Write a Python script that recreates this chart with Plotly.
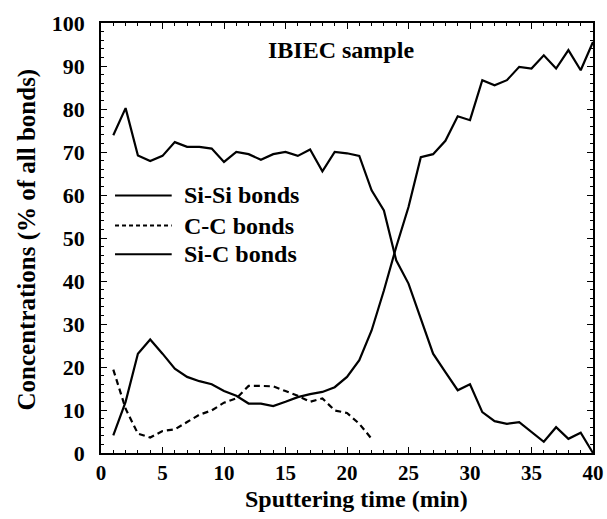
import plotly.graph_objects as go

time_min = list(range(1, 41))
si_si = [73.9, 80.2, 69.2, 67.9, 69.1, 72.3, 71.2, 71.2, 70.8, 67.7,
         70.0, 69.5, 68.2, 69.5, 70.0, 69.1, 70.6, 65.5, 70.0, 69.7,
         69.1, 61.1, 56.4, 44.8, 39.4, 31.3, 23.1, 18.8, 14.6, 16.0,
         9.5, 7.4, 6.8, 7.2, 5.0, 2.6, 6.0, 3.3, 4.7, 0.0]
si_c = [4.1, 11.9, 23.1, 26.4, 23.1, 19.6, 17.7, 16.7, 16.0, 14.4,
        13.3, 11.5, 11.5, 10.9, 11.9, 13.0, 13.7, 14.2, 15.3, 17.7,
        21.6, 28.5, 37.8, 47.9, 57.2, 68.8, 69.5, 72.6, 78.3, 77.4,
        86.7, 85.5, 86.7, 89.8, 89.4, 92.5, 89.4, 93.7, 89.0, 95.6]
cc_time = list(range(1, 23))
c_c = [19.4, 10.3, 4.5, 3.6, 5.1, 5.5, 7.2, 8.9, 9.9, 11.7,
       12.7, 15.6, 15.6, 15.5, 14.4, 13.3, 11.9, 12.7, 9.9, 9.3,
       6.8, 3.3]

legend_labels = ["Si-Si bonds", "C-C bonds", "Si-C bonds"]
sample_title = "IBIEC sample"
x_title = "Sputtering time (min)"
y_title = "Concentrations (% of all bonds)"

FONT = "Liberation Serif"
BLACK = "#000000"

fig = go.Figure()
fig.add_trace(go.Scatter(x=time_min, y=si_si, mode="lines", name=legend_labels[0],
                         line=dict(color=BLACK, width=2.2)))
fig.add_trace(go.Scatter(x=cc_time, y=c_c, mode="lines", name=legend_labels[1],
                         line=dict(color=BLACK, width=2.2, dash="6px,4px")))
fig.add_trace(go.Scatter(x=time_min, y=si_c, mode="lines", name=legend_labels[2],
                         line=dict(color=BLACK, width=2.2)))

# manual legend
leg_y = [0.599, 0.529, 0.462]
dashes = ["solid", "4px,3px", "solid"]
for lab, yy, d in zip(legend_labels, leg_y, dashes):
    fig.add_shape(type="line", xref="paper", yref="paper", x0=0.0285, x1=0.1437,
                  y0=yy, y1=yy, line=dict(color=BLACK, width=2, dash=d))
    fig.add_annotation(xref="paper", yref="paper", x=0.165, y=yy, text="<b>%s</b>" % lab,
                       showarrow=False, xanchor="left", yanchor="middle",
                       font=dict(family=FONT, size=24, color=BLACK))

fig.add_annotation(xref="paper", yref="paper", x=0.487, y=0.9365, text="<b>%s</b>" % sample_title,
                   showarrow=False, xanchor="center", yanchor="middle",
                   font=dict(family=FONT, size=24, color=BLACK))

# axis titles
fig.add_annotation(xref="paper", yref="paper", x=0.52, y=-0.107, text="<b>%s</b>" % x_title,
                   showarrow=False, xanchor="center", yanchor="middle",
                   font=dict(family=FONT, size=24, color=BLACK))
fig.add_annotation(xref="paper", yref="paper", x=-0.150, y=0.497, text="<b>%s</b>" % y_title,
                   showarrow=False, xanchor="center", yanchor="middle", textangle=-90,
                   font=dict(family=FONT, size=25, color=BLACK))

axis_common = dict(
    showline=True, linecolor=BLACK, linewidth=1.5, mirror="ticks",
    ticks="inside", ticklen=6, tickwidth=1, tickcolor=BLACK,
    showgrid=False, zeroline=False, automargin=False,
    tickfont=dict(family=FONT, size=22, color=BLACK),
    tickprefix="<b>", ticksuffix="</b>",
)

fig.update_xaxes(range=[0, 40], dtick=5, tick0=0,
                 minor=dict(dtick=1, ticks="inside", ticklen=3, tickcolor=BLACK),
                 ticklabelstandoff=0, tickfont=dict(family=FONT, size=21, color=BLACK),
                 **{k: v for k, v in axis_common.items() if k != "tickfont"})
fig.update_yaxes(range=[0, 100], dtick=10, tick0=0,
                 minor=dict(dtick=2, ticks="inside", ticklen=3, tickcolor=BLACK),
                 ticklabelstandoff=10,
                 **axis_common)
fig.update_layout(
    width=607, height=519,
    margin=dict(l=101, r=14, t=23, b=66),
    plot_bgcolor="white", paper_bgcolor="white",
    showlegend=False,
    font=dict(family=FONT, color=BLACK),
)

fig.write_html("out.html")
